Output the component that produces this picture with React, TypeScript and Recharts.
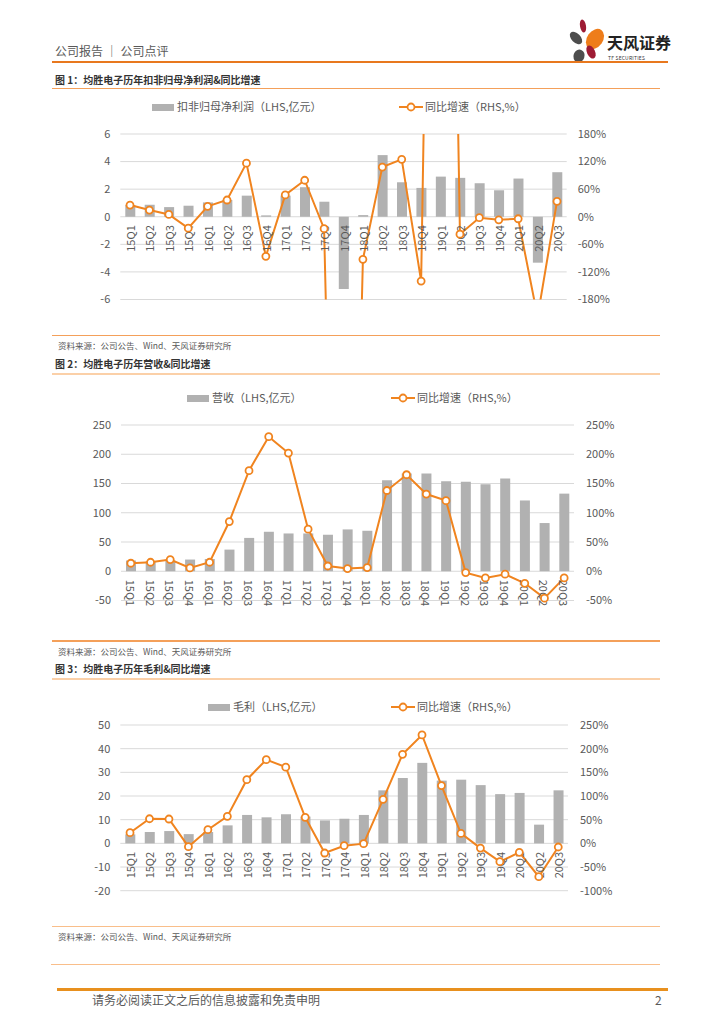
import React from 'react';
import { ComposedChart, Bar, Line, XAxis, YAxis, CartesianGrid } from 'recharts';

// ---------- data ----------
const categories = [
  '15Q1', '15Q2', '15Q3', '15Q4', '16Q1', '16Q2', '16Q3', '16Q4',
  '17Q1', '17Q2', '17Q3', '17Q4', '18Q1', '18Q2', '18Q3', '18Q4',
  '19Q1', '19Q2', '19Q3', '19Q4', '20Q1', '20Q2', '20Q3',
];

// 图1 扣非归母净利润 (亿元) & 同比 (%)
const netProfit = [0.85, 0.87, 0.7, 0.8, 1.04, 1.22, 1.53, 0.1, 1.53, 2.14, 1.09, -5.24, 0.12, 4.47, 2.5, 2.09, 2.91, 2.82, 2.43, 1.92, 2.77, -3.33, 3.23];
const netProfitYoY = [25.5, 14.6, 5, -24.8, 22.6, 36.4, 116.6, -86, 47.4, 79.4, -26, -1800, -92.6, 108, 125, -140, 2400, -38, -2, -6.6, -4.4, -218, 33.5];

// 图2 营收 (亿元) & 同比 (%)
const revenue = [18.3, 17, 18, 20, 21, 37, 57, 67.5, 64.6, 64.6, 62.4, 71.5, 69.2, 155.6, 167, 167, 154, 153, 148.7, 158.5, 121, 82.4, 132.7];
const revenueYoY = [13.7, 15.4, 20, 5.7, 15.4, 85, 172, 230, 202, 72, 9, 4.6, 6.3, 138, 165, 132, 120.7, -2.3, -11.4, -5, -20.6, -46, -11.4];

// 图3 毛利 (亿元) & 同比 (%)
const grossProfit = [3.8, 4.8, 5.2, 3.9, 4.8, 7.6, 12, 11, 12.3, 11.3, 9.7, 10.4, 12, 22.4, 27.6, 34, 26.5, 26.9, 24.6, 20.8, 21.3, 7.9, 22.4];
const grossProfitYoY = [22.5, 52, 51.4, -7, 28.9, 57, 134.5, 176.8, 161, 55, -20.4, -5, -0.7, 93, 188, 229, 122, 21, -10, -38.7, -19, -70.4, -7.7];

// tick labels
const ticks1L = [-6, -4, -2, 0, 2, 4, 6];
const ticks1R = [-180, -120, -60, 0, 60, 120, 180];
const ticks2L = [-50, 0, 50, 100, 150, 200, 250];
const ticks2R = [-50, 0, 50, 100, 150, 200, 250];
const ticks3L = [-20, -10, 0, 10, 20, 30, 40, 50];
const ticks3R = [-100, -50, 0, 50, 100, 150, 200, 250];

// ---------- styles ----------
const ORANGE = '#F0841F';
const BAR_GRAY = '#B1B1B1';
const TEXT_GRAY = '#595959';
const FONT = '"Noto Sans CJK SC", "Noto Sans", sans-serif';

function buildRows(bars: number[], yoy: number[]) {
  // axisZero: helper carrying the category-axis position (value 0) for the labels
  return categories.map((name, i) => ({ name, bar: bars[i], yoy: yoy[i], axisZero: 0 }));
}

const makeCategoryLabel = (rotate: number) => (props: any) => {
  const { cx, cy, index } = props;
  if (cx == null || cy == null || isNaN(cx) || isNaN(cy)) return <g key={`e-${index}`} />;
  const y = cy + 8.5;
  return (
    <text
      key={`lbl-${index}`}
      x={cx}
      y={y}
      transform={`rotate(${rotate} ${cx} ${y})`}
      textAnchor={rotate < 0 ? 'end' : 'start'}
      dominantBaseline="central"
      fontSize={11}
      fill={TEXT_GRAY}
      fontFamily={FONT}
    >
      {categories[index]}
    </text>
  );
};

type ChartProps = {
  rows: any[];
  top: number;
  height: number;
  margin: { top: number; right: number; bottom: number; left: number };
  leftDomain: [number, number];
  leftTicks: number[];
  rightDomain: [number, number];
  rightTicks: number[];
  rightTickMargin: number;
  labelRotate: number;
  clip: boolean;
};

function DualChart(p: ChartProps) {
  return (
    <div style={{ position: 'absolute', left: 0, top: p.top, width: 724, height: p.height, fontFamily: FONT }}>
      <ComposedChart width={724} height={p.height} data={p.rows} margin={p.margin} barSize={10}>
        <CartesianGrid yAxisId="left" vertical={false} stroke="#D9D9D9" strokeWidth={1} />
        <XAxis dataKey="name" hide />
        <YAxis
          yAxisId="left"
          orientation="left"
          width={40}
          domain={p.leftDomain}
          ticks={p.leftTicks}
          interval={0}
          axisLine={false}
          tickLine={false}
          tickSize={0}
          tickMargin={10}
          tick={{ fill: TEXT_GRAY, fontSize: 11 }}
        />
        <YAxis
          yAxisId="right"
          orientation="right"
          width={60}
          domain={p.rightDomain}
          ticks={p.rightTicks}
          interval={0}
          allowDataOverflow={p.clip}
          axisLine={false}
          tickLine={false}
          tickSize={0}
          tickMargin={p.rightTickMargin}
          tickFormatter={(v: number) => `${v}%`}
          tick={{ fill: TEXT_GRAY, fontSize: 11, textAnchor: 'start' }}
        />
        <Bar yAxisId="left" dataKey="bar" fill={BAR_GRAY} isAnimationActive={false} />
        <Line
          yAxisId="left"
          dataKey="axisZero"
          stroke="none"
          dot={makeCategoryLabel(p.labelRotate)}
          activeDot={false}
          isAnimationActive={false}
          legendType="none"
        />
        <Line
          yAxisId="right"
          type="linear"
          dataKey="yoy"
          stroke={ORANGE}
          strokeWidth={2}
          dot={{ r: 3.5, fill: '#FFFFFF', stroke: ORANGE, strokeWidth: 1.8 }}
          activeDot={false}
          isAnimationActive={false}
        />
      </ComposedChart>
    </div>
  );
}

function abs(top: number, left: number, extra: React.CSSProperties = {}): React.CSSProperties {
  return { position: 'absolute', top, left, lineHeight: 1, whiteSpace: 'nowrap', ...extra };
}

function HLine({ top, left, width, h, color }: { top: number; left: number; width: number; h: number; color: string }) {
  return <div style={{ position: 'absolute', top, left, width, height: h, background: color }} />;
}

function Legend({ top, barLeft, barText, lineLeft }: { top: number; barLeft: number; barText: string; lineLeft: number }) {
  return (
    <>
      <div style={{ position: 'absolute', top: top - 3.5, left: barLeft, width: 22, height: 7, background: BAR_GRAY }} />
      <div style={abs(top - 6, barLeft + 25, { fontSize: 11, color: TEXT_GRAY })}>{barText}</div>
      <svg style={{ position: 'absolute', top: top - 6, left: lineLeft }} width={24} height={12}>
        <line x1={0} y1={6} x2={24} y2={6} stroke={ORANGE} strokeWidth={2} />
        <circle cx={12} cy={6} r={3.5} fill="#fff" stroke={ORANGE} strokeWidth={1.8} />
      </svg>
      <div style={abs(top - 6, lineLeft + 26, { fontSize: 11, color: TEXT_GRAY })}>同比增速（RHS,%）</div>
    </>
  );
}

function Logo() {
  return (
    <svg style={{ position: 'absolute', top: 12, left: 564 }} width={112} height={54}>
      <ellipse cx={19} cy={14} rx={3} ry={6.5} fill="#9E1B34" transform="rotate(-10 19 14)" />
      <ellipse cx={31} cy={27} rx={8} ry={11} fill="#EE7D1A" transform="rotate(35 31 27)" />
      <ellipse cx={12} cy={26} rx={4.5} ry={7.5} fill="#4D4D4D" transform="rotate(-45 12 26)" />
      <ellipse cx={27} cy={40} rx={4} ry={7} fill="#9E1B34" transform="rotate(-25 27 40)" />
      <ellipse cx={15} cy={44} rx={5.5} ry={6.5} fill="#4D4D4D" transform="rotate(20 15 44)" />
      <text x={43} y={37} fontSize={16} fontWeight={700} fill="#222" fontFamily={FONT}>天风证券</text>
      <text x={44} y={47.5} fontSize={5} fill="#333" fontFamily={FONT} letterSpacing={0.2}>TF SECURITIES</text>
    </svg>
  );
}

export default function App() {
  const rows1 = buildRows(netProfit, netProfitYoY);
  const rows2 = buildRows(revenue, revenueYoY);
  const rows3 = buildRows(grossProfit, grossProfitYoY);

  const titleStyle = { fontSize: 10, fontWeight: 700, color: '#333' };
  const srcStyle = { fontSize: 8.5, color: TEXT_GRAY };

  return (
    <div style={{ position: 'absolute', top: 0, left: 0, width: 724, height: 1024, background: '#fff', fontFamily: FONT, overflow: 'hidden' }}>
      {/* header */}
      <div style={abs(45, 55, { fontSize: 12, color: TEXT_GRAY })}>公司报告 ｜ 公司点评</div>
      <Logo />
      <HLine top={60.5} left={52} width={616} h={2} color="#E8781E" />

      {/* figure 1 */}
      <div style={abs(74.5, 55, titleStyle)}>图 1：均胜电子历年扣非归母净利润&amp;同比增速</div>
      <HLine top={88} left={52} width={608} h={1} color="#F4A05A" />
      <Legend top={107} barLeft={152} barText="扣非归母净利润（LHS,亿元）" lineLeft={399} />
      <DualChart
        rows={rows1}
        top={120}
        height={200}
        margin={{ top: 14, right: 97.3, bottom: 20.5, left: 80.3 }}
        leftDomain={[-6, 6]}
        leftTicks={ticks1L}
        rightDomain={[-180, 180]}
        rightTicks={ticks1R}
        rightTickMargin={11}
        labelRotate={-90}
        clip={true}
      />
      <HLine top={334.5} left={52} width={608} h={1.5} color="#F4A05A" />
      <div style={abs(341, 58, srcStyle)}>资料来源：公司公告、Wind、天风证券研究所</div>

      {/* figure 2 */}
      <div style={abs(359, 55, titleStyle)}>图 2：均胜电子历年营收&amp;同比增速</div>
      <HLine top={373} left={52} width={608} h={2} color="#FBD0A8" />
      <Legend top={398} barLeft={187} barText="营收（LHS,亿元）" lineLeft={391} />
      <DualChart
        rows={rows2}
        top={410}
        height={210}
        margin={{ top: 15, right: 90, bottom: 19.5, left: 81 }}
        leftDomain={[-50, 250]}
        leftTicks={ticks2L}
        rightDomain={[-50, 250]}
        rightTicks={ticks2R}
        rightTickMargin={12}
        labelRotate={90}
        clip={false}
      />
      <HLine top={640} left={52} width={608} h={1.5} color="#F4A05A" />
      <div style={abs(646.5, 58, srcStyle)}>资料来源：公司公告、Wind、天风证券研究所</div>

      {/* figure 3 */}
      <div style={abs(664.3, 55, titleStyle)}>图 3：均胜电子历年毛利&amp;同比增速</div>
      <HLine top={678} left={52} width={608} h={2} color="#FBD0A8" />
      <Legend top={707} barLeft={208} barText="毛利（LHS,亿元）" lineLeft={391} />
      <DualChart
        rows={rows3}
        top={715}
        height={190}
        margin={{ top: 10, right: 96, bottom: 14.3, left: 80.3 }}
        leftDomain={[-20, 50]}
        leftTicks={ticks3L}
        rightDomain={[-100, 250]}
        rightTicks={ticks3R}
        rightTickMargin={12}
        labelRotate={-90}
        clip={false}
      />
      <HLine top={925.5} left={52} width={608} h={1.5} color="#F9BE8A" />
      <div style={abs(932, 58, srcStyle)}>资料来源：公司公告、Wind、天风证券研究所</div>
      <HLine top={963.5} left={51} width={609} h={1.5} color="#F9BE8A" />

      {/* footer */}
      <HLine top={988} left={57} width={611} h={2.5} color="#E8901E" />
      <div style={abs(994, 92, { fontSize: 12, color: TEXT_GRAY })}>请务必阅读正文之后的信息披露和免责申明</div>
      <div style={abs(994, 655, { fontSize: 12, color: TEXT_GRAY })}>2</div>
    </div>
  );
}
